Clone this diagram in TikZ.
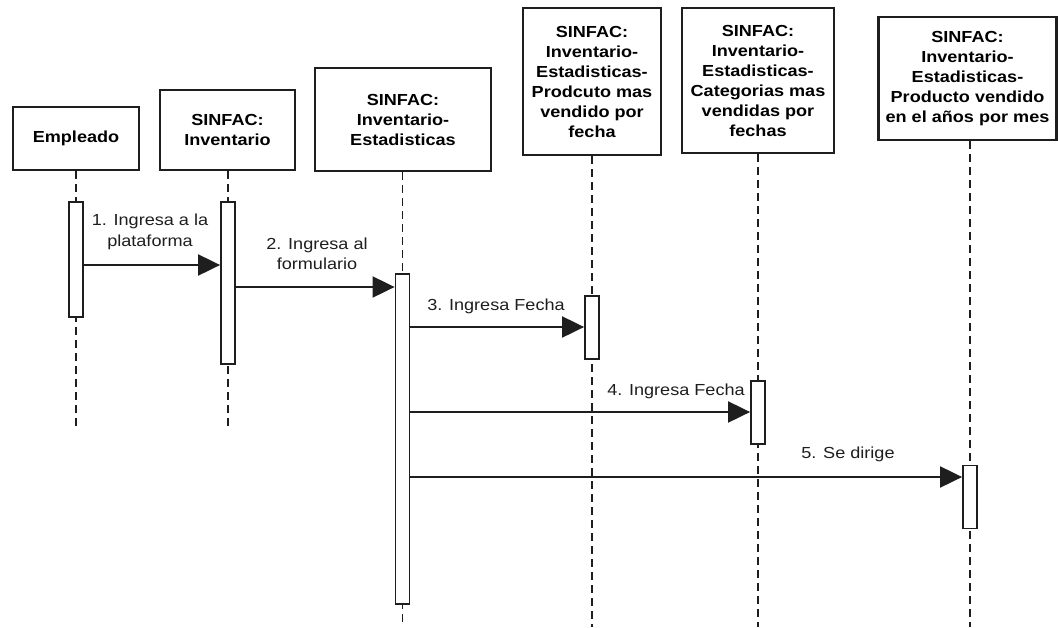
\documentclass[tikz,border=0pt]{standalone}
\usepackage{fontspec}
\setmainfont{Liberation Sans}
\newfontfamily\diafont[FakeStretch=1.13]{Liberation Sans}
\usetikzlibrary{arrows.meta}
\definecolor{ink}{HTML}{1E1E1E}
\tikzset{
  every picture/.style={x=1pt,y=-1pt},
  objbox/.style={draw=ink,line width=2.2pt,fill=white,rectangle,inner sep=0pt,align=center,
    font=\diafont\fontsize{16}{20}\selectfont\bfseries},
  actbar/.style={draw=ink,line width=1.8pt,fill=white,rectangle,inner sep=0pt,minimum width=14pt},
  lifeline/.style={draw=ink,line width=1.8pt,dash pattern=on 8pt off 5pt},
  msg/.style={draw=ink,line width=2pt,-{Triangle[length=22pt,width=21pt]}},
  msglabel/.style={align=center,inner sep=0pt,font=\diafont\fontsize{16}{20.5}\selectfont,text=ink}
}
\begin{document}
\begin{tikzpicture}
\useasboundingbox (0,0) rectangle (1058,627);
% objects
\node[objbox,minimum width=126pt,minimum height=63pt] (emp) at (76,138.5) {Empleado};
\node[objbox,minimum width=135pt,minimum height=80pt] (inv) at (227.5,130) {SINFAC:\\Inventario};
\node[objbox,minimum width=176pt,minimum height=103pt] (est) at (403,119.5) {SINFAC:\\Inventario-\\Estadisticas};
\node[objbox,minimum width=138pt,minimum height=147pt] (prod) at (592,81.5) {SINFAC:\\Inventario-\\Estadisticas-\\Prodcuto mas\\vendido por\\fecha};
\node[objbox,minimum width=152pt,minimum height=145pt] (cat) at (758,80.5) {SINFAC:\\Inventario-\\Estadisticas-\\Categorias mas\\vendidas por\\fechas};
\node[objbox,minimum width=178pt,minimum height=123pt] (ven) at (967.5,78.5) {SINFAC:\\Inventario-\\Estadisticas-\\Producto vendido\\en el años por mes};
% lifeline ends
\coordinate (e1) at (76,428);
\coordinate (e2) at (228,428);
\coordinate (e3) at (402.5,627);
\coordinate (e4) at (592,627);
\coordinate (e5) at (758,627);
\coordinate (e6) at (970,627);
\draw[lifeline] (emp.south -| e1) -- (e1);
\draw[lifeline] (inv.south -| e2) -- (e2);
\draw[lifeline] (est.south -| e3) -- (e3);
\draw[lifeline] (prod.south -| e4) -- (e4);
\draw[lifeline] (cat.south -| e5) -- (e5);
\draw[lifeline] (ven.south -| e6) -- (e6);
% activation bars
\node[actbar,minimum height=115pt] (b1) at (76,259.5) {};
\node[actbar,minimum height=162pt] (b2) at (228,283) {};
\node[actbar,minimum height=330pt] (b3) at (402.5,439) {};
\node[actbar,minimum height=63pt] (b4) at (592,327.5) {};
\node[actbar,minimum height=63pt] (b5) at (758,412.5) {};
\node[actbar,minimum height=63pt] (b6) at (970,497) {};
% messages
\draw[msg] (b1.east |- 0,265) -- (b2.west |- 0,265);
\draw[msg] (b2.east |- 0,287) -- (b3.west |- 0,287);
\draw[msg] (b3.east |- 0,327) -- (b4.west |- 0,327);
\draw[msg] (b3.east |- 0,412) -- (b5.west |- 0,412);
\draw[msg] (b3.east |- 0,477) -- (b6.west |- 0,477);
% labels
\node[msglabel] (l1) at (150,232) {1. Ingresa a la\\plataforma};
\node[msglabel] (l2) at (317,254) {2. Ingresa al\\formulario};
\node[msglabel] (l3) at (496,306) {3. Ingresa Fecha};
\node[msglabel] (l4) at (676,391) {4. Ingresa Fecha};
\node[msglabel] (l5) at (848,454) {5. Se dirige};
\end{tikzpicture}
\end{document}
